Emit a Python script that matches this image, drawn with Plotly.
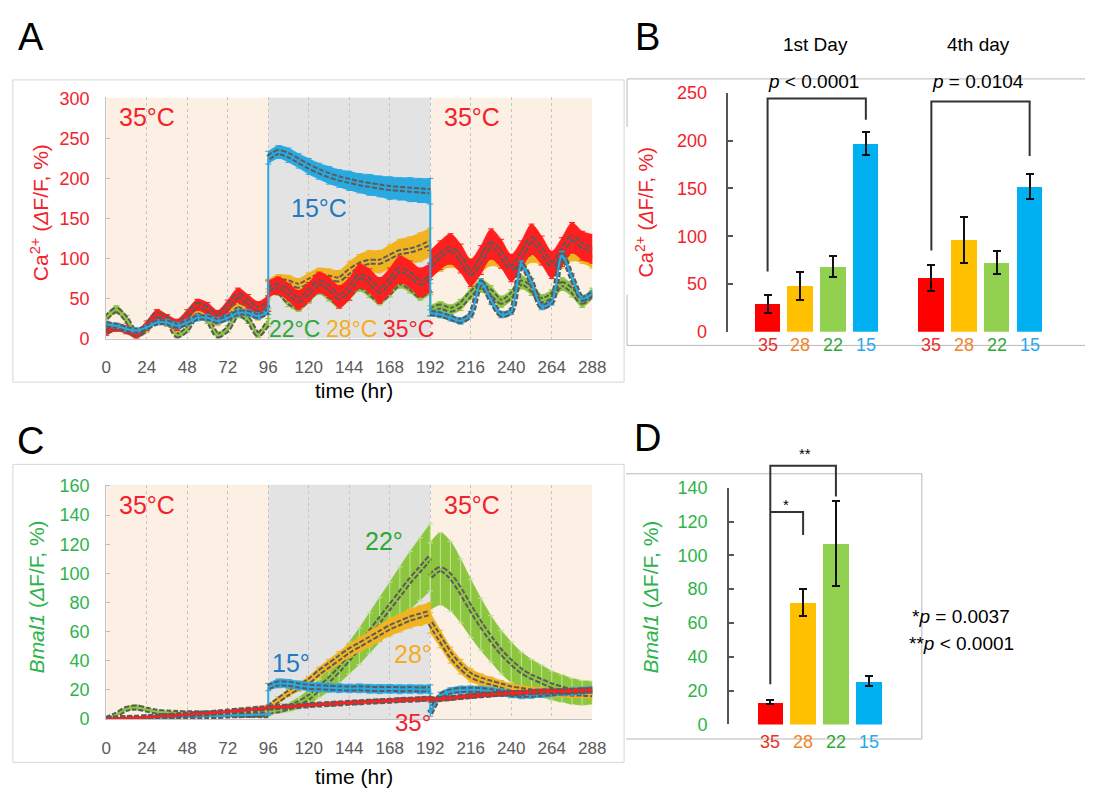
import plotly.graph_objects as go

W, H = 1099, 800
FONT = "Liberation Sans, Arial, Helvetica, sans-serif"

# ---------------------------------------------------------------------------
# Time-course data (mean and error half-width), sampled every 6 h.
# 96 h and 192 h appear twice: last reading before / first reading after
# each temperature switch.
# ---------------------------------------------------------------------------
TIME_HR = [0, 6, 12, 18, 24, 30, 36, 42, 48, 54, 60, 66, 72, 78, 84, 90, 96,
           96, 102, 108, 114, 120, 126, 132, 138, 144, 150, 156, 162, 168, 174, 180, 186, 192,
           192, 198, 204, 210, 216, 222, 228, 234, 240, 246, 252, 258, 264, 270, 276, 282, 288]

HOUR_TICKS = [0, 24, 48, 72, 96, 120, 144, 168, 192, 216, 240, 264, 288]

# Panel A: Ca2+ (dF/F, %)
CA_35 = [8, 14, 11, 5, 16, 30, 24, 17, 29, 42, 37, 27, 40, 54, 46, 37, 44,
         62, 66, 58, 48, 58, 70, 64, 52, 62, 78, 72, 60, 72, 86, 80, 70, 76,
         92, 104, 112, 100, 82, 98, 118, 106, 88, 104, 124, 110, 92, 108, 126, 116, 112]
CA_35_ERR = [4, 5, 5, 5, 6, 6, 6, 7, 7, 7, 8, 8, 8, 9, 9, 9, 10,
             10, 11, 11, 12, 12, 13, 13, 14, 14, 15, 15, 16, 16, 17, 17, 18, 18,
             18, 18, 19, 18, 17, 18, 19, 18, 17, 18, 19, 18, 17, 18, 19, 18, 18]

CA_28 = [12, 14, 10, 6, 14, 24, 20, 14, 24, 34, 28, 22, 32, 42, 36, 30, 42,
         66, 72, 70, 66, 72, 78, 76, 74, 84, 92, 96, 96, 102, 108, 110, 114, 120,
         90, 96, 102, 96, 88, 94, 104, 100, 92, 98, 108, 104, 96, 100, 110, 106, 100]
CA_28_ERR = [4, 4, 4, 4, 5, 5, 5, 5, 5, 6, 6, 6, 6, 6, 7, 7, 7,
             8, 8, 9, 9, 10, 10, 11, 11, 12, 13, 14, 14, 15, 16, 17, 18, 18,
             12, 12, 13, 12, 12, 12, 13, 12, 12, 12, 13, 12, 12, 12, 13, 12, 12]

CA_22 = [26, 36, 24, 5, 12, 31, 24, 4, 12, 31, 24, 4, 12, 31, 24, 5, 20,
         68, 60, 46, 40, 50, 62, 54, 44, 54, 66, 58, 48, 58, 70, 64, 54, 62,
         35, 40, 36, 42, 56, 66, 58, 46, 54, 70, 62, 48, 54, 68, 60, 46, 56]
CA_22_ERR = [4, 5, 5, 4, 4, 5, 5, 4, 4, 5, 5, 4, 4, 5, 5, 4, 5,
             6, 6, 6, 6, 6, 7, 7, 6, 6, 7, 7, 6, 6, 7, 7, 6, 7,
             6, 6, 6, 7, 7, 8, 8, 7, 7, 8, 8, 7, 7, 8, 8, 7, 7]

CA_15 = [18, 16, 12, 10, 14, 20, 20, 16, 20, 26, 26, 22, 26, 32, 32, 28, 34,
         226, 233, 229, 222, 215, 209, 204, 200, 197, 194, 192, 190, 188, 187, 186, 185, 184,
         32, 30, 26, 22, 30, 70, 48, 30, 34, 92, 70, 40, 46, 104, 76, 50, 56]
CA_15_ERR = [3, 3, 3, 3, 3, 3, 4, 4, 4, 4, 4, 4, 4, 4, 4, 4, 4,
             8, 8, 9, 9, 10, 10, 11, 11, 12, 12, 13, 13, 14, 14, 15, 15, 16,
             4, 4, 4, 4, 4, 5, 5, 4, 4, 5, 5, 4, 4, 5, 5, 4, 4]

# Panel C: Bmal1 (dF/F, %)
BM_35 = [0.1, 0.5, 0.8, 1.0, 1.3, 1.8, 2.2, 2.6, 3.1, 3.6, 4.0, 4.6, 5.2, 5.8, 6.5, 7.1, 7.6,
         8.0, 8.3, 8.6, 9.0, 9.6, 10.0, 10.3, 10.8, 11.2, 11.5, 12.0, 12.3, 12.6, 13.1, 13.3, 13.7, 14.1,
         13.2, 13.8, 14.4, 15.1, 15.8, 16.3, 16.9, 17.4, 17.8, 18.1, 18.6, 18.9, 19.2, 19.1, 19.4, 19.6, 19.8]
BM_35_ERR = [0.3, 0.4, 0.5, 0.6, 0.6, 0.7, 0.7, 0.8, 0.8, 0.8, 0.9, 0.9, 0.9, 1.0, 1.0, 1.0, 1.0,
             1.0, 1.0, 1.1, 1.1, 1.1, 1.2, 1.2, 1.2, 1.2, 1.3, 1.3, 1.3, 1.3, 1.4, 1.4, 1.4, 1.4,
             1.4, 1.4, 1.4, 1.5, 1.5, 1.5, 1.5, 1.5, 1.6, 1.6, 1.6, 1.6, 1.6, 1.6, 1.6, 1.6, 1.6]

BM_28 = [0.1, 0.2, 0.5, 0.8, 1.0, 1.3, 1.5, 1.8, 2.0, 2.4, 2.7, 3.0, 3.4, 3.8, 4.3, 4.8, 5.4,
         8, 13, 18, 22, 26, 32, 37, 42, 47, 51, 55, 59, 63, 66, 69, 71, 73,
         66, 55, 44, 36, 30, 27, 25, 23, 21, 20, 19, 18.5, 18, 18, 17.5, 17.5, 17]
BM_28_ERR = [0.3, 0.4, 0.5, 0.6, 0.6, 0.7, 0.7, 0.8, 0.8, 0.9, 0.9, 1.0, 1.0, 1.1, 1.1, 1.2, 1.2,
             2, 2.3, 2.6, 3, 3.3, 3.6, 4, 4.3, 4.6, 5, 5.3, 5.6, 6, 6.2, 6.5, 6.8, 7,
             7, 6, 5.5, 5, 4.5, 4, 3.8, 3.5, 3.3, 3, 3, 3, 3, 3, 3, 3, 3]

BM_22 = [0.1, 3, 7, 8, 6.5, 5, 4.5, 4.2, 4.0, 4.0, 3.8, 3.6, 3.4, 3.2, 3.0, 2.8, 2.6,
         5, 6, 8, 11, 15, 21, 27, 34, 42, 50, 59, 68, 77, 86, 95, 103, 111,
         98, 103, 98, 88, 76, 65, 55, 46, 39, 33, 29, 26, 23, 21, 19, 18, 18]
BM_22_ERR = [0.3, 1, 1.5, 2, 1.5, 1.2, 1.0, 1.0, 1.0, 1.0, 1.0, 1.0, 1.0, 1.0, 1.0, 1.0, 1.0,
             1.5, 2, 3, 4, 5, 6.5, 8, 9.5, 11, 12.5, 14, 15.5, 17, 18.5, 20, 21.5, 23,
             23, 25, 24, 22, 20, 18, 16, 15, 14, 13, 12, 11, 10, 9.5, 9, 8.5, 8]

BM_15 = [0.1, 0.3, 0.5, 0.6, 0.9, 1.0, 1.3, 1.4, 1.7, 1.8, 2.1, 2.2, 2.5, 2.7, 2.8, 3.1, 3.3,
         22, 24.5, 24.2, 23.1, 22.2, 21.8, 21.5, 21.2, 21.0, 21.1, 20.8, 20.6, 20.7, 20.5, 20.6, 20.4, 20.5,
         4, 16, 19, 20, 20.2, 20.0, 19.2, 18.2, 17.2, 16.6, 16.8, 17.3, 17.9, 18.4, 18.9, 19.4, 20.0]
BM_15_ERR = [0.3, 0.3, 0.4, 0.4, 0.4, 0.5, 0.5, 0.5, 0.5, 0.6, 0.6, 0.6, 0.6, 0.7, 0.7, 0.7, 0.7,
             2.5, 3, 3, 3, 3, 3.1, 3, 3, 2.9, 3, 3, 3.1, 3, 3, 2.9, 3, 3,
             2, 2.5, 2.5, 2.6, 2.5, 2.5, 2.6, 2.5, 2.5, 2.6, 2.5, 2.5, 2.5, 2.4, 2.5, 2.5, 2.5]

# Panels B and D: bar summaries (temperature in deg C)
TEMPS = ["35", "28", "22", "15"]
CA_DAY1 = [29, 48, 68, 197]
CA_DAY1_ERR = [9, 14.5, 11, 12]
CA_DAY4 = [56, 96, 72, 152]
CA_DAY4_ERR = [13.5, 24, 12, 13]
BMAL_BAR = [13, 72, 107, 25.5]
BMAL_BAR_ERR = [1.2, 8, 25, 3]

CA_TICKS = [0, 50, 100, 150, 200, 250, 300]
BM_TICKS = [0, 20, 40, 60, 80, 100, 120, 140, 160]
CA_BAR_TICKS = [0, 50, 100, 150, 200, 250]
BM_BAR_TICKS = [0, 20, 40, 60, 80, 100, 120, 140]

# ---------------------------------------------------------------------------
# Styling
# ---------------------------------------------------------------------------
RED_TXT = "#f2222a"
GREEN_TXT = "#2db34a"
SERIES_COLORS = {"35": "#ff1f1f", "28": "#f1b421", "22": "#8cc63f", "15": "#2aa9e0"}
BAR_COLORS = ["#ff0000", "#ffc000", "#92d050", "#00b0f0"]
LABEL_COLORS = ["#e8302a", "#f0842c", "#2ea836", "#29a8f0"]
PEACH = "#fcefe3"
COLD_GRAY = "#e3e3e3"
MEAN_GRAY = "#5b5b5b"

# index ranges of the three temperature phases inside TIME_HR
PHASES = [(0, 17), (17, 34), (34, 51)]


def px(x):
    return x / W


def py(y):
    return 1 - y / H


# axis placement (pixels -> paper)
A_XDOM = [px(103), px(597.6)]
A_YDOM = [py(337), py(89.7)]
C_YDOM = [py(727.3), py(486.7)]
B_XDOM, B_XRANGE = [px(736), px(1076)], [-1.2, 9.0]
B_YDOM, B_YRANGE = [py(330), py(85)], [0, 250]
D_XDOM, D_XRANGE = [px(736.7), px(933)], [-1.26, 4.62]
D_YDOM, D_YRANGE = [py(732.7), py(490)], [0, 140]


def to_paper(v, dom, rng):
    return dom[0] + (v - rng[0]) / (rng[1] - rng[0]) * (dom[1] - dom[0])


fig = go.Figure()


def add_series(xa, ya, mean, err, color, cap_color=None):
    common = dict(xaxis=xa, yaxis=ya, hoverinfo="skip", showlegend=False)
    spline = dict(shape="spline", smoothing=0.8)
    # error band, one smooth piece per temperature phase
    for a, b in PHASES:
        t, m, e = TIME_HR[a:b], mean[a:b], err[a:b]
        lo = [mi - ei for mi, ei in zip(m, e)]
        hi = [mi + ei for mi, ei in zip(m, e)]
        fig.add_trace(go.Scatter(x=t, y=lo, mode="lines", line=dict(width=0, color=color, **spline), **common))
        fig.add_trace(go.Scatter(x=t, y=hi, mode="lines", line=dict(width=0.6, color=color, **spline),
                                 fill="tonexty", fillcolor=color, **common))
    # error bar caps along the band edges
    fig.add_trace(go.Scatter(x=TIME_HR, y=mean, mode="markers", marker=dict(size=1, opacity=0),
                             error_y=dict(type="data", array=err, color=cap_color or color,
                                          thickness=1, width=3), **common))
    # mean curve: grey dashed outline with the series colour running through it
    for width, col, dash in ((6, MEAN_GRAY, "5px,2px"), (2, color, None)):
        for a, b in PHASES:
            fig.add_trace(go.Scatter(x=TIME_HR[a:b], y=mean[a:b], mode="lines",
                                     line=dict(width=width, color=col, dash=dash, **spline), **common))
    # thin straight steps at the temperature switches
    jx, jy = [], []
    for a, b in PHASES[:-1]:
        jx += [TIME_HR[b - 1], TIME_HR[b], None]
        jy += [mean[b - 1], mean[b], None]
    fig.add_trace(go.Scatter(x=jx, y=jy, mode="lines", line=dict(width=2, color=color), **common))


# Panel A traces
add_series("x", "y", CA_22, CA_22_ERR, SERIES_COLORS["22"])
add_series("x", "y", CA_28, CA_28_ERR, SERIES_COLORS["28"])
add_series("x", "y", CA_35, CA_35_ERR, SERIES_COLORS["35"])
add_series("x", "y", CA_15, CA_15_ERR, SERIES_COLORS["15"])

# Panel C traces
add_series("x3", "y3", BM_22, BM_22_ERR, SERIES_COLORS["22"], cap_color="#c4e29a")
add_series("x3", "y3", BM_28, BM_28_ERR, SERIES_COLORS["28"])
add_series("x3", "y3", BM_15, BM_15_ERR, SERIES_COLORS["15"])
add_series("x3", "y3", BM_35, BM_35_ERR, SERIES_COLORS["35"])

# Panel B bars (slots 0-3: 1st day, 5-8: 4th day)
DAY1_SLOTS = [0, 1, 2, 3]
DAY4_SLOTS = [5, 6, 7, 8]
bar_err = dict(type="data", color="#111111", thickness=2, width=4)
fig.add_trace(go.Bar(x=DAY1_SLOTS, y=CA_DAY1, width=0.78, marker=dict(color=BAR_COLORS, line=dict(width=0)),
                     error_y=dict(array=CA_DAY1_ERR, **bar_err), xaxis="x2", yaxis="y2",
                     showlegend=False, hoverinfo="skip"))
fig.add_trace(go.Bar(x=DAY4_SLOTS, y=CA_DAY4, width=0.78, marker=dict(color=BAR_COLORS, line=dict(width=0)),
                     error_y=dict(array=CA_DAY4_ERR, **bar_err), xaxis="x2", yaxis="y2",
                     showlegend=False, hoverinfo="skip"))

# Panel D bars
D_SLOTS = [0, 1, 2, 3]
fig.add_trace(go.Bar(x=D_SLOTS, y=BMAL_BAR, width=0.78, marker=dict(color=BAR_COLORS, line=dict(width=0)),
                     error_y=dict(array=BMAL_BAR_ERR, **bar_err), xaxis="x4", yaxis="y4",
                     showlegend=False, hoverinfo="skip"))


# ---------------------------------------------------------------------------
# Axes
# ---------------------------------------------------------------------------
def time_xaxis(dom, anchor):
    return dict(domain=dom, range=[0, 288], anchor=anchor, tickmode="array", tickvals=HOUR_TICKS,
                showgrid=True, gridcolor="#c4c4c4", griddash="dot", gridwidth=1,
                showline=True, linecolor="#c2c2c2", linewidth=1, zeroline=False, ticks="",
                tickfont=dict(family=FONT, size=17, color="#5a5a5a"), ticklabelstandoff=13)


def value_yaxis(dom, rng, ticks, color, anchor, standoff):
    return dict(domain=dom, range=rng, anchor=anchor, tickmode="array", tickvals=ticks,
                showgrid=False, zeroline=False, showline=True, linecolor="#c2c2c2", linewidth=1,
                ticks="inside", ticklen=4, tickcolor="#bdbdbd",
                tickfont=dict(family=FONT, size=18, color=color), ticklabelstandoff=standoff)


def bar_yaxis(dom, rng, ticks, color, anchor):
    return dict(domain=dom, range=rng, anchor=anchor, tickmode="array", tickvals=ticks,
                showgrid=False, zeroline=False, showline=True, linecolor="#555555", linewidth=1.5,
                ticks="inside", ticklen=5, tickcolor="#555555", tickwidth=1.5,
                tickfont=dict(family=FONT, size=18, color=color), ticklabelstandoff=16)


def hidden_xaxis(dom, rng, anchor):
    return dict(domain=dom, range=rng, anchor=anchor, showgrid=False, zeroline=False,
                showline=False, showticklabels=False, ticks="")


fig.update_layout(
    width=W, height=H, margin=dict(l=0, r=0, t=0, b=0),
    paper_bgcolor="white", plot_bgcolor="rgba(0,0,0,0)",
    font=dict(family=FONT), showlegend=False, bargap=0,
    xaxis=time_xaxis(A_XDOM, "y"),
    yaxis=value_yaxis(A_YDOM, [0, 301.2], CA_TICKS, RED_TXT, "x", 12),
    xaxis3=time_xaxis(A_XDOM, "y3"),
    yaxis3=value_yaxis(C_YDOM, [0, 161], BM_TICKS, GREEN_TXT, "x3", 12),
    xaxis2=hidden_xaxis(B_XDOM, B_XRANGE, "y2"),
    yaxis2=bar_yaxis(B_YDOM, B_YRANGE, CA_BAR_TICKS, RED_TXT, "x2"),
    xaxis4=hidden_xaxis(D_XDOM, D_XRANGE, "y4"),
    yaxis4=bar_yaxis(D_YDOM, D_YRANGE, BM_BAR_TICKS, GREEN_TXT, "x4"),
)

# ---------------------------------------------------------------------------
# Shapes: temperature backgrounds, panel frames, significance brackets
# ---------------------------------------------------------------------------
shapes = []
for xa, ya, top in (("x", "y", 301.2), ("x3", "y3", 161)):
    for x0, x1, col in ((0, 96, PEACH), (96, 192, COLD_GRAY), (192, 288, PEACH)):
        shapes.append(dict(type="rect", xref=xa, yref=ya, x0=x0, x1=x1, y0=0, y1=top,
                           fillcolor=col, line=dict(width=0), layer="below"))

FRAME_LIGHT = dict(color="#d6d6d6", width=1)
FRAME_MID = dict(color="#b8b8b8", width=1)


def pline(x0, y0, x1, y1, line):
    return dict(type="line", xref="paper", yref="paper", x0=px(x0), y0=py(y0), x1=px(x1), y1=py(y1),
                line=line, layer="below")


shapes.append(dict(type="rect", xref="paper", yref="paper", x0=px(8), x1=px(630), y0=py(381.7),
                   y1=py(71.7), line=FRAME_LIGHT, layer="below"))
shapes.append(dict(type="rect", xref="paper", yref="paper", x0=px(8), x1=px(630), y0=py(771.7),
                   y1=py(466), line=FRAME_LIGHT, layer="below"))
# frame around panel B (open on the right)
shapes += [pline(633, 70.7, 1099, 70.7, FRAME_MID), pline(633, 344, 1099, 344, FRAME_MID),
           pline(633, 70.7, 633, 120, FRAME_MID), pline(633, 292, 633, 344, FRAME_MID)]
# frame around panel D
shapes += [pline(632, 475.7, 933, 475.7, FRAME_MID), pline(933, 475.7, 933, 747.7, FRAME_MID),
           pline(632, 747.7, 933, 747.7, FRAME_MID)]

BRACKET = dict(color="#333333", width=2)


def bracket(xdom, xrng, ydom, yrng, xl, xr, yl, ytop, yr):
    xl_p, xr_p = to_paper(xl, xdom, xrng), to_paper(xr, xdom, xrng)
    yl_p, yt_p, yr_p = (to_paper(v, ydom, yrng) for v in (yl, ytop, yr))
    return dict(type="path", xref="paper", yref="paper",
                path=f"M {xl_p},{yl_p} L {xl_p},{yt_p} L {xr_p},{yt_p} L {xr_p},{yr_p}",
                line=BRACKET)


# (left slot, right slot, left foot, top, right foot) in data units
B_BRACKETS = [(0, 3, 63, 244, 222), (5, 8, 85, 241, 184)]
D_BRACKETS = [(0, 2, 23.7, 153, 134.8), (0, 1, 125.6, 125.6, 112)]
for b in B_BRACKETS:
    shapes.append(bracket(B_XDOM, B_XRANGE, B_YDOM, B_YRANGE, *b))
for b in D_BRACKETS:
    shapes.append(bracket(D_XDOM, D_XRANGE, D_YDOM, D_YRANGE, *b))

fig.update_layout(shapes=shapes)


# ---------------------------------------------------------------------------
# Text
# ---------------------------------------------------------------------------
def ann(x, y, text, size, color="#000000", angle=0):
    return dict(x=px(x), y=py(y), xref="paper", yref="paper", text=text, showarrow=False,
                font=dict(family=FONT, size=size, color=color), textangle=angle,
                xanchor="center", yanchor="middle")


ca_title = "Ca<sup>2+</sup> (<i>Δ</i>F/F, %)"
bm_title = "<i>Bmal1</i> (<i>Δ</i>F/F, %)"
BLUE_TXT = "#2479c0"
ORANGE_TXT = "#f4ad1d"
GREEN_LBL = "#2ea836"

annotations = [
    # panel letters
    ann(26, 28, "A", 38), ann(654, 28, "B", 38), ann(26, 442, "C", 38), ann(654, 439, "D", 38),
    # panel A
    ann(35, 208, ca_title, 21, RED_TXT, -90),
    ann(355, 390, "time (hr)", 21),
    ann(144, 110, "35°C", 25, RED_TXT), ann(475, 110, "35°C", 25, RED_TXT),
    ann(320, 203, "15°C", 25, BLUE_TXT),
    ann(295, 327, "22°C", 23, GREEN_LBL), ann(353, 327, "28°C", 23, ORANGE_TXT),
    ann(411, 327, "35°C", 23, RED_TXT),
    # panel C
    ann(33, 602, bm_title, 21, GREEN_TXT, -90),
    ann(355, 786, "time (hr)", 21),
    ann(144, 508, "35°C", 25, RED_TXT), ann(475, 508, "35°C", 25, RED_TXT),
    ann(386, 545, "22°", 25, GREEN_LBL), ann(415, 661, "28°", 25, ORANGE_TXT),
    ann(291, 670, "15°", 25, BLUE_TXT), ann(415, 731, "35°", 24, RED_TXT),
    # panel B
    ann(651, 207, ca_title, 20, RED_TXT, -90),
    ann(825, 35, "1st Day", 19), ann(991, 35, "4th day", 19),
    ann(823, 73, "<i>p</i> < 0.0001", 19), ann(990, 73, "<i>p</i> = 0.0104", 19),
    # panel D
    ann(657, 602, bm_title, 21, GREEN_TXT, -90),
    ann(814, 455, "**", 15), ann(795, 507, "*", 15),
    ann(973, 622, "*<i>p</i> = 0.0037", 19), ann(973, 650, "**<i>p</i> < 0.0001", 19),
]

# temperature labels under the bars
for slots, xa in ((DAY1_SLOTS, "x2"), (DAY4_SLOTS, "x2"), (D_SLOTS, "x4")):
    ylab = 344 if xa == "x2" else 751
    for s, lab, col in zip(slots, TEMPS, LABEL_COLORS):
        annotations.append(dict(x=s, y=py(ylab), xref=xa, yref="paper", text=lab, showarrow=False,
                                font=dict(family=FONT, size=18, color=col),
                                xanchor="center", yanchor="middle"))

fig.update_layout(annotations=annotations)

fig.write_html("out.html")
